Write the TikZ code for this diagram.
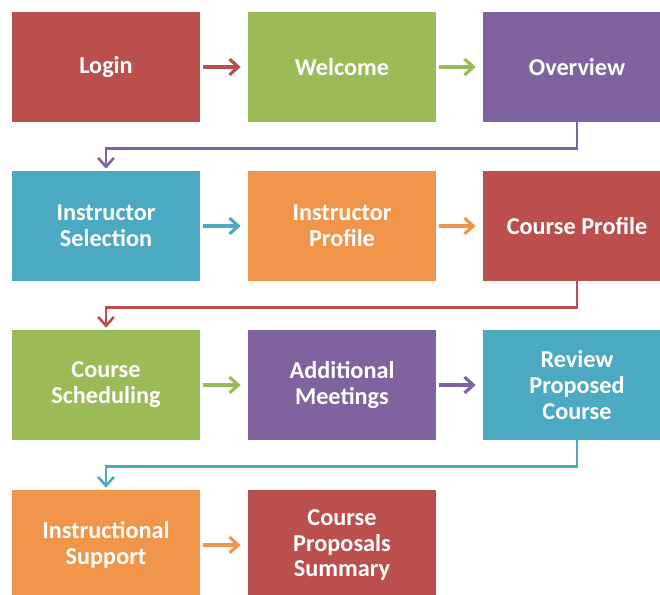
\documentclass[tikz,border=0pt]{standalone}
\usepackage{fontspec}
\setmainfont{Carlito}
\usepackage{xcolor}
\usepackage{tikz}
\usetikzlibrary{arrows.meta}
\definecolor{red}{HTML}{BA4F4D}
\definecolor{green}{HTML}{9BBB59}
\definecolor{purple}{HTML}{7F63A1}
\definecolor{blue}{HTML}{4BA9C2}
\definecolor{orange}{HTML}{F0954A}
\tikzset{
  box/.style={rectangle, minimum width=3.76cm, minimum height=2.2cm, inner sep=0pt,
    text=white, align=center, font=\fontsize{13.8}{14.7}\selectfont\bfseries},
  boxR/.style={box, fill=red},
  boxG/.style={box, fill=green},
  boxP/.style={box, fill=purple},
  boxB/.style={box, fill=blue},
  boxO/.style={box, fill=orange},
  link/.style={-{Straight Barb[length=5pt,width=9pt]}, line width=1.8pt, shorten <=0.06cm, shorten >=0.14cm},
  elbow/.style={-{Straight Barb[length=5pt,width=9pt]}, line width=1.5pt, shorten >=0.04cm}
}

\begin{document}
\begin{tikzpicture}[x=0.02cm, y=-0.02cm]
  \useasboundingbox (0,0) rectangle (660,595);

  % first row
  \node[boxR] (login)    at (106,67)  {Login};
  \node[boxG] (welcome)  at (342,67)  {Welcome};
  \node[boxP] (overview) at (577,67)  {Overview};

  % second row
  \node[boxB] (instsel)  at (106,226) {Instructor\\Selection};
  \node[boxO] (instprof) at (342,226) {Instructor\\Profile};
  \node[boxR] (crsprof)  at (577,226) {Course Profile};

  % third row
  \node[boxG] (crssched) at (106,385) {Course\\Scheduling};
  \node[boxP] (addmeet)  at (342,385) {Additional\\Meetings};
  \node[boxB] (review)   at (577,385) {Review\\Proposed\\Course};

  % last row, cut at the bottom edge
  \node[boxO] (instsup)  at (106,545) {Instructional\\Support};
  \node[boxR] (summary)  at (342,545) {Course\\Proposals\\Summary};

  % arrows within a row
  \draw[link, red]    (login) -- (welcome);
  \draw[link, green]  (welcome) -- (overview);
  \draw[link, blue]   (instsel) -- (instprof);
  \draw[link, orange] (instprof) -- (crsprof);
  \draw[link, green]  (crssched) -- (addmeet);
  \draw[link, purple] (addmeet) -- (review);
  \draw[link, orange] (instsup) -- (summary);

  % elbows from the end of one row to the start of the next
  \draw[elbow, purple] (overview.south) -- ++(0,26) -| (instsel.north);
  \draw[elbow, red]    (crsprof.south) -- ++(0,26) -| (crssched.north);
  \draw[elbow, blue]   (review.south) -- ++(0,26) -| (instsup.north);
\end{tikzpicture}
\end{document}
